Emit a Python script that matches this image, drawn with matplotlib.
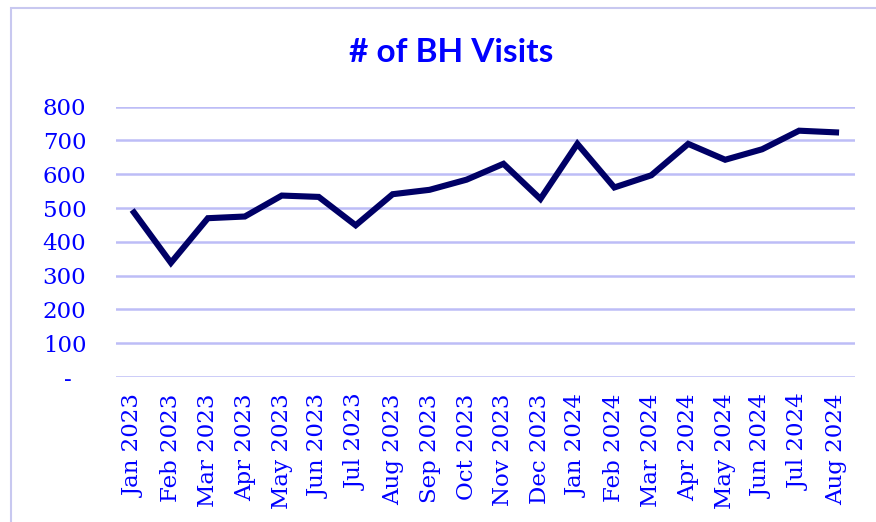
import matplotlib.pyplot as plt
from matplotlib.patches import Rectangle

months = ['Jan 2023', 'Feb 2023', 'Mar 2023', 'Apr 2023', 'May 2023', 'Jun 2023',
          'Jul 2023', 'Aug 2023', 'Sep 2023', 'Oct 2023', 'Nov 2023', 'Dec 2023',
          'Jan 2024', 'Feb 2024', 'Mar 2024', 'Apr 2024', 'May 2024', 'Jun 2024',
          'Jul 2024', 'Aug 2024']
visits = [487, 338, 470, 475, 537, 533, 449, 541, 554, 584, 631, 527,
          690, 561, 597, 690, 643, 674, 729, 724]

y_ticks = [0, 100, 200, 300, 400, 500, 600, 700, 800]
y_labels = ['-  ', '100', '200', '300', '400', '500', '600', '700', '800']

text_color = '#0000FF'
line_color = '#000066'
grid_color = '#BDBDF7'

fig = plt.figure(figsize=(8.76, 5.22), dpi=100)
ax = fig.add_axes([115.5 / 876, 1 - 377 / 522, 739 / 876, (377 - 106.7) / 522])

x = range(len(months))
ax.plot(x, visits, color=line_color, linewidth=4.4, solid_joinstyle='miter')

ax.set_xlim(-0.5, len(months) - 0.5)
ax.set_ylim(0, 800)
ax.set_yticks(y_ticks)
ax.set_yticklabels(y_labels, family='DejaVu Serif', fontsize=16.5, color=text_color)
ax.set_xticks(list(x))
ax.set_xticklabels(months, rotation=90, family='DejaVu Serif', fontsize=16.5,
                   color=text_color)
ax.tick_params(axis='both', length=0)
ax.tick_params(axis='y', pad=21)
ax.tick_params(axis='x', pad=12)

ax.grid(axis='y', color=grid_color, linewidth=1.8)
ax.set_axisbelow(True)
for s in ax.spines.values():
    s.set_visible(False)

fig.text(451 / 876, 1 - 52 / 522, '# of BH Visits', ha='center', va='center',
         family='Lato', fontweight='bold', fontsize=24, color=text_color)

# chart area border
fig.patches.append(Rectangle((11 / 876, -0.1), 1.0, 1 - 8 / 522 + 0.1,
                             transform=fig.transFigure, fill=False,
                             edgecolor='#C8C8F0', linewidth=1.5))

plt.savefig('out.png', dpi=100)
plt.close()
